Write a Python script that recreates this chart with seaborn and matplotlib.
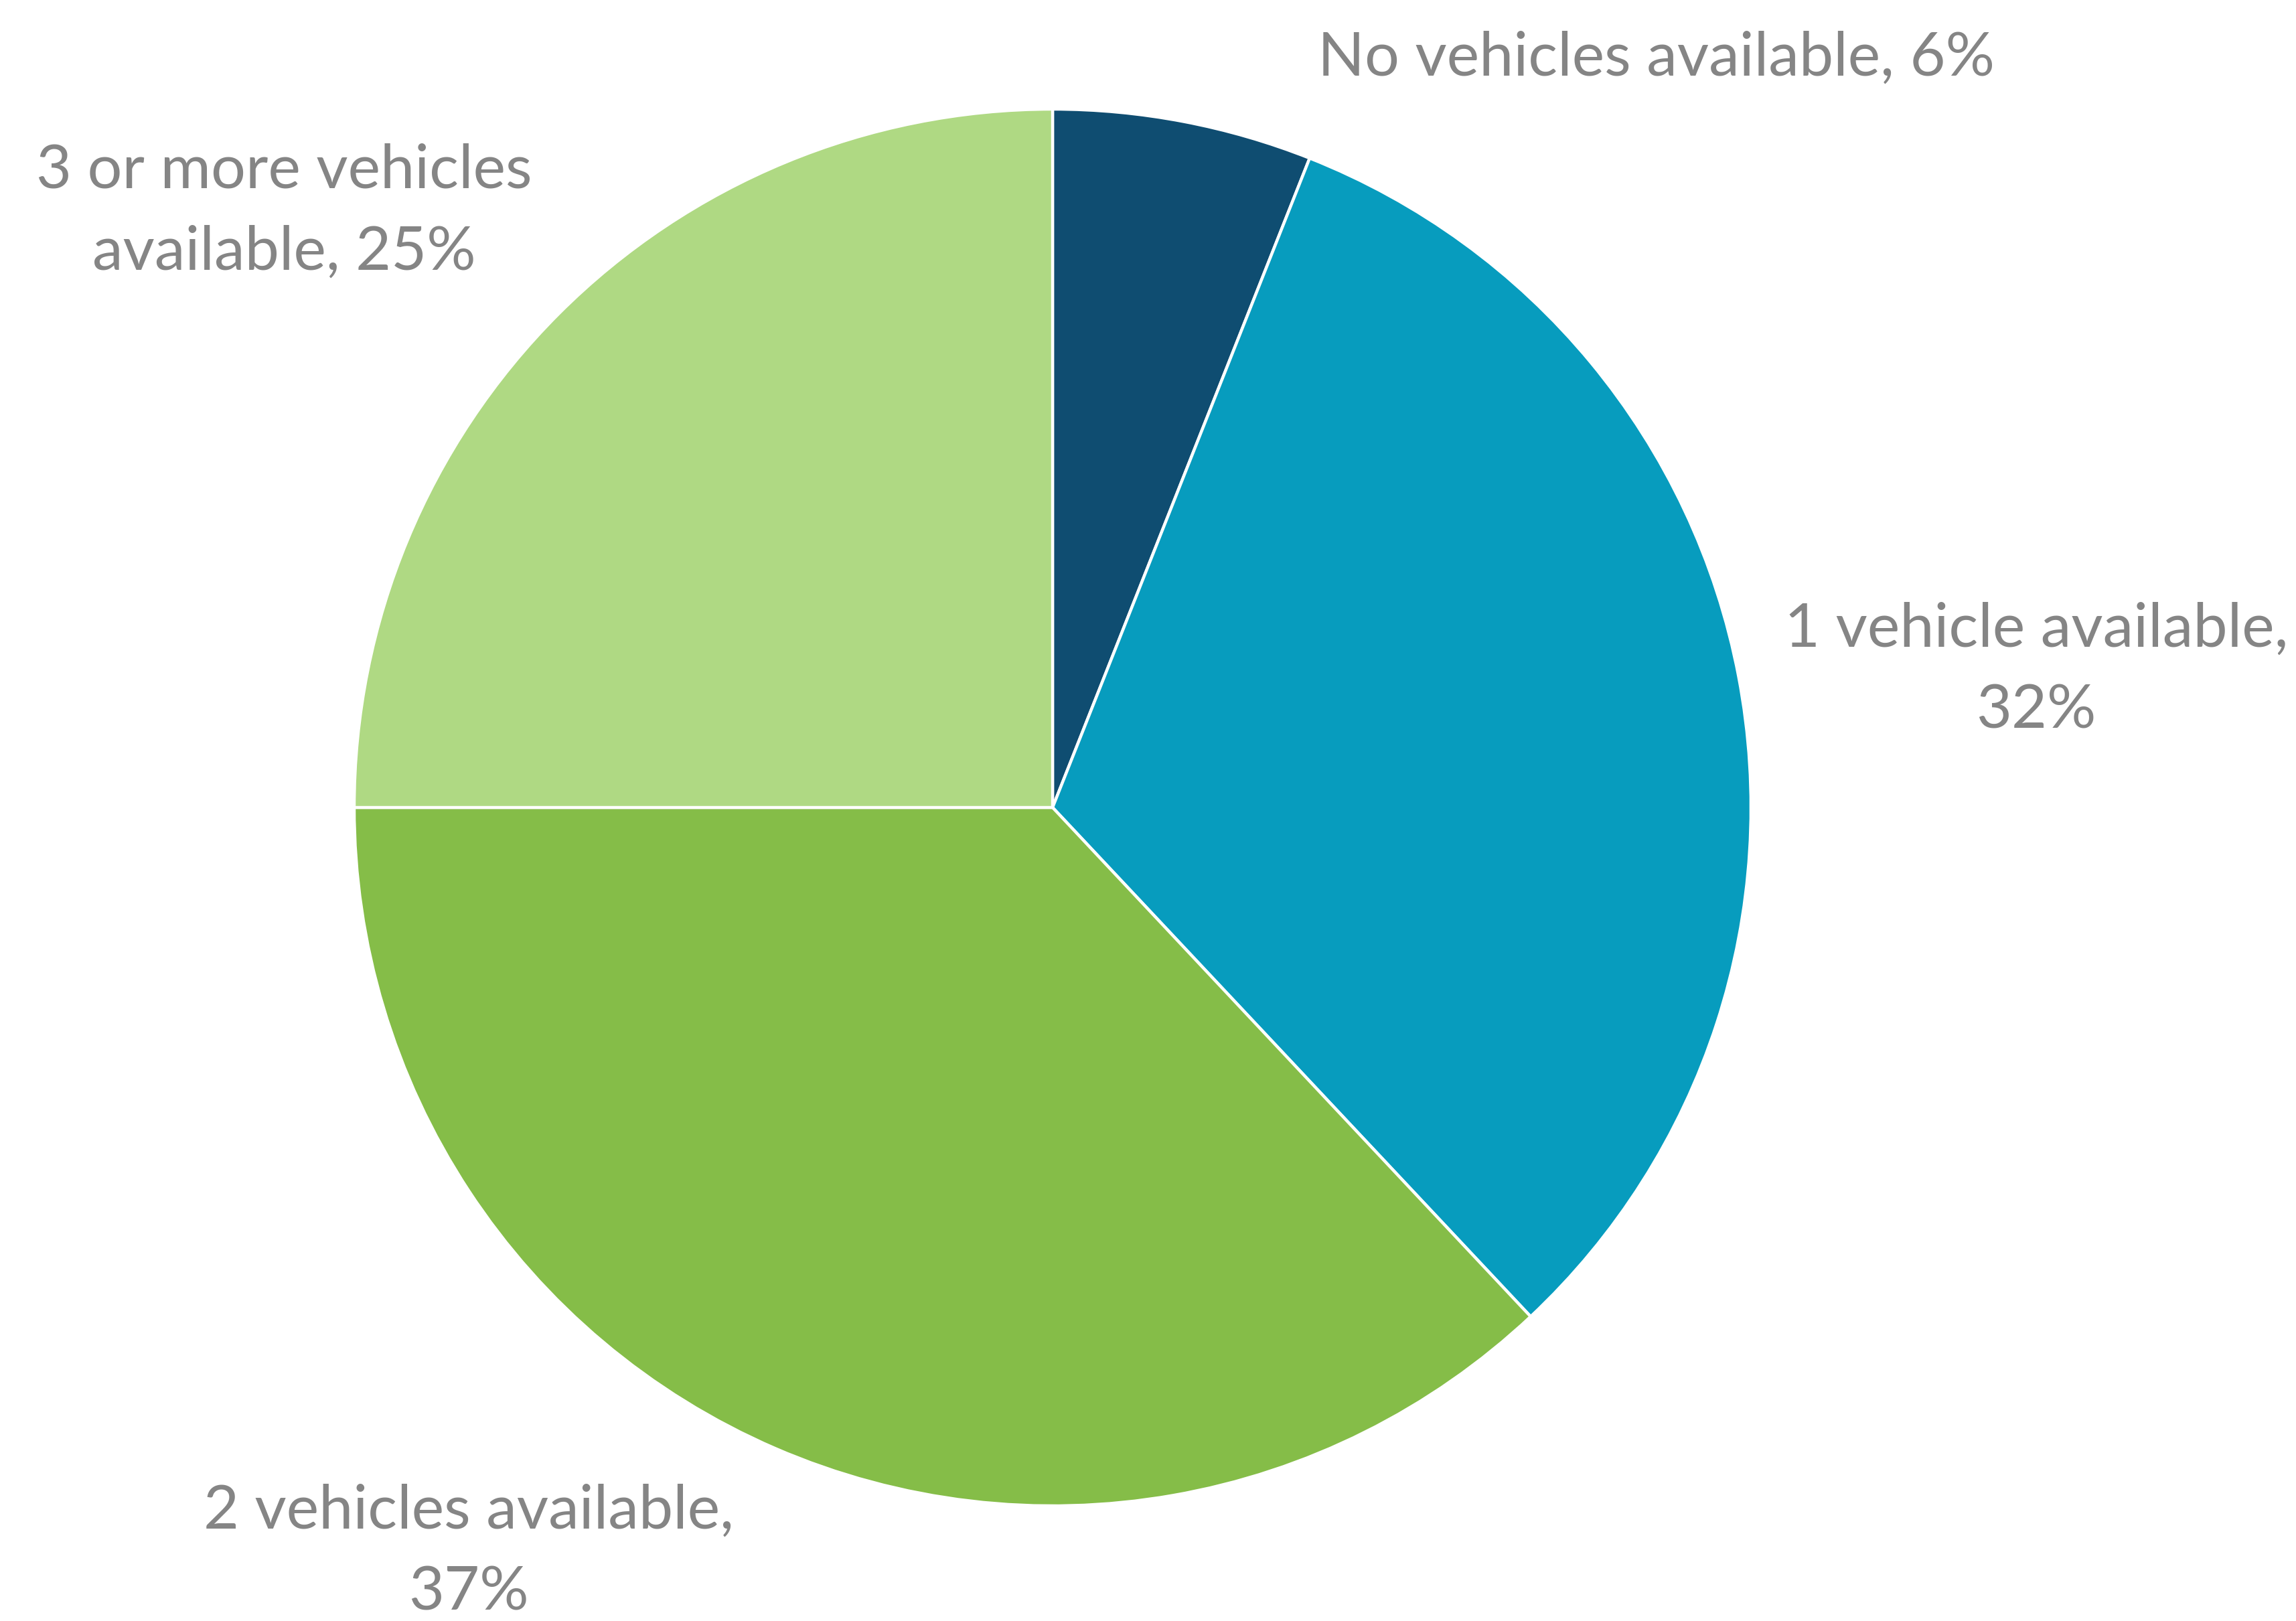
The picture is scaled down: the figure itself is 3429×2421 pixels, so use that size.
import matplotlib
matplotlib.use("Agg")
import matplotlib.pyplot as plt
import seaborn as sns

# Household vehicle availability shares
categories = [
    "No vehicles available",
    "1 vehicle available",
    "2 vehicles available",
    "3 or more vehicles available",
]
shares = [6, 32, 37, 25]
label_texts = [
    "No vehicles available, 6%",
    "1 vehicle available,\n32%",
    "2 vehicles available,\n37%",
    "3 or more vehicles\navailable, 25%",
]
colors = ["#0F4D71", "#079CBE", "#85BD48", "#AFD983"]

sns.set_theme(style="white")
plt.rcParams["font.family"] = ["Lato", "DejaVu Sans"]

W, H = 3430, 2421
fig = plt.figure(figsize=(W / 100, H / 100), dpi=100)
ax = fig.add_axes([0, 0, 1, 1])

# Pie drawn clockwise from 12 o'clock, in pixel-sized data units
ax.pie(
    shares,
    colors=colors,
    startangle=90,
    counterclock=False,
    center=(1572, 1215),
    radius=1043,
    frame=True,
    wedgeprops=dict(edgecolor="white", linewidth=3.2),
)
ax.set_xlim(0, W)
ax.set_ylim(0, H)
ax.set_aspect("equal")
ax.axis("off")

# Category labels placed around the pie
label_pos = [(2474, 2334), (3041, 1420), (700, 103), (424, 2105)]
for txt, (x, y) in zip(label_texts, label_pos):
    ax.text(x, y, txt, ha="center", va="center", multialignment="center",
            fontsize=66, color="#858585", linespacing=1.58)

fig.savefig("out.png", dpi=100, facecolor="white")
